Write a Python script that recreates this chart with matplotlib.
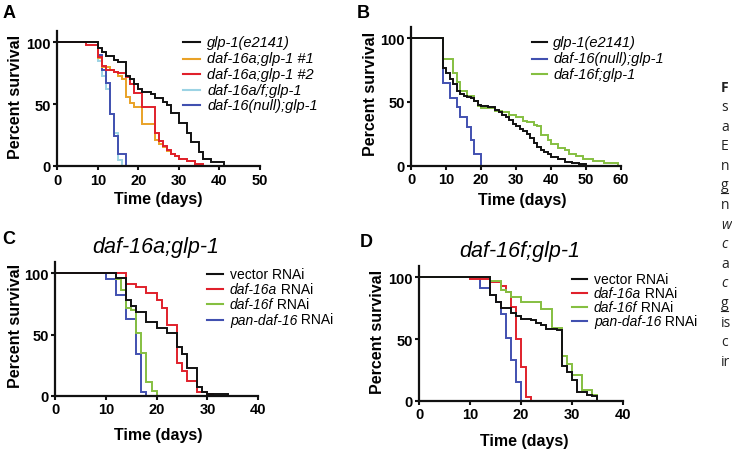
import matplotlib
matplotlib.use("Agg")
import matplotlib.pyplot as plt
from matplotlib.lines import Line2D

# ---------------- data ----------------
# Panel A
A_GLP1_T = [0, 10, 11, 12, 14, 15, 17, 18, 19, 20, 21, 23, 24, 26, 27, 28, 30, 32, 33, 35, 36, 38, 41]
A_GLP1_S = [100, 95, 92, 89, 86, 84, 73, 70, 66, 62, 60, 58, 55, 52, 49, 43, 35, 27, 19, 11, 6, 3, 0]
A_D16A1_T = [0, 10, 11, 13, 14, 15, 16, 17, 18, 19, 21, 24, 25, 26, 27, 28, 29, 30, 32, 34, 36]
A_D16A1_S = [100, 87, 80, 78, 76, 73, 70, 56, 51, 48, 34, 21, 18, 15, 12, 10, 8, 6, 4, 2, 0]
A_D16A2_T = [0, 7, 10, 11, 12, 14, 15, 17, 18, 19, 21, 24, 25, 26, 27, 28, 29, 30, 32, 34, 36]
A_D16A2_S = [100, 98, 88, 81, 78, 76, 75, 72, 66, 59, 48, 27, 20, 16, 13, 10, 8, 6, 4, 2, 0]
A_D16AF_T = [0, 10, 11, 12, 13, 14, 15, 16]
A_D16AF_S = [100, 85, 73, 62, 42, 27, 5, 0]
A_NULL_T = [0, 10, 11, 12, 13, 14, 15, 17]
A_NULL_S = [100, 90, 78, 67, 42, 24, 10, 0]

# Panel B
B_GLP1_T = [0, 9, 10, 11, 12, 13, 14, 15, 16, 17, 18, 19, 20, 22, 24, 25, 26, 27, 28, 29, 30,
            31, 32, 33, 34, 35, 36, 37, 38, 39, 40, 42, 44, 46, 48, 50]
B_GLP1_S = [100, 77, 73, 68, 64, 59, 56, 55, 54, 53, 51, 48, 47, 46, 44, 42, 40, 38, 36, 33, 31,
            29, 27, 25, 22, 18, 15, 12, 11, 9, 7, 5, 3, 2, 1, 0]
B_NULL_T = [0, 9, 11, 13, 14, 16, 17, 18, 20]
B_NULL_S = [100, 65, 53, 46, 38, 30, 20, 9, 0]
B_D16F_T = [0, 9, 12, 13, 14, 16, 18, 19, 20, 24, 26, 28, 30, 32, 33, 35, 36, 37, 39, 40, 42,
            44, 45, 47, 49, 52, 55, 59]
B_D16F_S = [100, 84, 73, 66, 59, 55, 51, 47, 45, 43, 42, 40, 38, 35, 34, 32, 31, 24, 20, 17, 14,
            12, 9, 8, 5, 4, 2.5, 0]

# Panel C (daf-16a;glp-1)
C_VEC_T = [0, 12, 14, 15, 16, 18, 20, 22, 24, 25, 26, 28, 29, 30, 34]
C_VEC_S = [100, 96, 78, 73, 68, 60, 55, 51, 40, 34, 23, 7, 3, 1.5, 0]
C_D16A_T = [0, 14, 16, 18, 20, 21, 22, 24, 25, 26, 28, 30, 31]
C_D16A_S = [100, 91, 89, 84, 78, 72, 58, 27, 20, 12, 3, 1.5, 0]
C_D16F_T = [0, 12, 13, 14, 15, 16, 17, 18, 19, 20]
C_D16F_S = [100, 95, 86, 72, 70, 51, 35, 11, 4, 0]
C_PAN_T = [0, 10, 12, 14, 16, 17, 18]
C_PAN_S = [100, 95, 82, 63, 34, 3, 0]

# Panel D (daf-16f;glp-1)
D_VEC_T = [0, 14, 15, 16, 18, 19, 20, 22, 23, 24, 25, 27, 28, 29, 30, 31, 33, 34, 35]
D_VEC_S = [100, 86, 80, 75, 71, 69, 66, 65, 63, 61, 58, 57, 28, 23, 17, 7, 5, 4, 0]
D_D16A_T = [0, 10, 14, 16, 17, 18, 19, 20, 21, 22]
D_D16A_S = [100, 98.6, 96, 93, 88, 76, 50, 27, 3, 0]
D_D16F_T = [0, 14, 16, 17, 18, 20, 24, 26, 28, 29, 30, 32, 34, 35]
D_D16F_S = [100, 97, 90, 88, 84, 80, 74, 59, 36, 30, 21, 9, 5, 0]
D_PAN_T = [0, 12, 14, 15, 16, 17, 18, 19, 20]
D_PAN_S = [100, 91, 86, 80, 70, 51, 33, 15, 0]

X_TICKS_A = [0, 10, 20, 30, 40, 50]
X_TICKS_B = [0, 10, 20, 30, 40, 50, 60]
X_TICKS_CD = [0, 10, 20, 30, 40]
Y_TICKS = [0, 50, 100]

LEGEND_A = [("glp-1(e2141)", ""), ("daf-16a;glp-1 #1", ""), ("daf-16a;glp-1 #2", ""),
            ("daf-16a/f;glp-1", ""), ("daf-16(null);glp-1", "")]
LEGEND_B = [("glp-1(e2141)", ""), ("daf-16(null);glp-1", ""), ("daf-16f;glp-1", "")]
LEGEND_CD = [("vector", None), ("daf-16a", " RNAi"), ("daf-16f", " RNAi"), ("pan-daf-16", " RNAi")]

RIGHT_TEXT = ["F", "s", "a", "E", "n", "g", "n", "w", "c", "a", "c", "g", "is", "c", "ir"]
RIGHT_STYLE = ["bold", "", "", "", "", "u", "", "i", "i", "", "i", "u", "", "", ""]

# ---------------- style ----------------
BLACK = "#111111"
ORANGE = "#E9A227"
RED = "#E0202B"
LIGHTBLUE = "#9CD3E4"
DARKBLUE = "#4150B0"
GREEN = "#85BF41"

W, H = 732, 452
plt.rcParams["font.family"] = ["Liberation Sans", "DejaVu Sans"]
fig = plt.figure(figsize=(W / 100, H / 100), dpi=100)


def fx(x):
    return x / W


def fy(y):
    return 1 - y / H


def make_ax(left, right, y0, y100, xmax, xticks):
    ppp = (y0 - y100) / 100.0
    top = y0 - 109 * ppp
    ax = fig.add_axes([fx(left), fy(y0), (right - left) / W, (y0 - top) / H])
    ax.set_xlim(0, xmax)
    ax.set_ylim(0, 109)
    for s in ("top", "right"):
        ax.spines[s].set_visible(False)
    for s in ("left", "bottom"):
        ax.spines[s].set_linewidth(1.6)
        ax.spines[s].set_color(BLACK)
    ax.set_xticks(xticks)
    ax.set_yticks(Y_TICKS)
    ax.tick_params(axis="both", direction="out", length=3.2, width=1.5, color=BLACK,
                   labelsize=10.5, pad=1.5)
    for lab in ax.get_xticklabels() + ax.get_yticklabels():
        lab.set_fontweight("bold")
    ax.patch.set_alpha(0)
    return ax


def curve(ax, t, s, color):
    ax.step(t, s, where="post", color=color, lw=1.4, clip_on=False, solid_joinstyle="miter")


def labels(ax, xc, yc):
    ax.set_xlabel("Time (days)", fontsize=11.5, fontweight="bold")
    ax.xaxis.set_label_coords(fx(xc[0]), fy(xc[1]), transform=fig.transFigure)
    ax.xaxis.label.set_va("center")
    ax.set_ylabel("Percent survival", fontsize=11.5, fontweight="bold")
    ax.yaxis.set_label_coords(fx(yc[0]), fy(yc[1]), transform=fig.transFigure)
    ax.yaxis.label.set_va("center")
    ax.yaxis.label.set_ha("center")


def legend(ax, rows, colors, ys, x0, x1, xt, size):
    for (main, extra), c, y in zip(rows, colors, ys):
        fig.add_artist(Line2D([fx(x0), fx(x1)], [fy(y), fy(y)], color=c, lw=1.5,
                              transform=fig.transFigure))
        if extra is None:
            fig.text(fx(xt), fy(y), main + " RNAi", fontsize=size, va="center", ha="left")
        else:
            t1 = fig.text(fx(xt), fy(y), main, fontsize=size, style="italic",
                          va="center", ha="left")
            if extra:
                ax.annotate(extra, xy=(1, 0), xycoords=t1, va="bottom", ha="left",
                            fontsize=size, annotation_clip=False)


# Panel A
axA = make_ax(57.3, 260, 167, 43.3, 50, X_TICKS_A)
for t, s, c in [(A_D16AF_T, A_D16AF_S, LIGHTBLUE), (A_NULL_T, A_NULL_S, DARKBLUE),
                (A_D16A1_T, A_D16A1_S, ORANGE), (A_D16A2_T, A_D16A2_S, RED),
                (A_GLP1_T, A_GLP1_S, BLACK)]:
    curve(axA, t, s, c)
labels(axA, (158.6, 200), (16, 97))
legend(axA, LEGEND_A, [BLACK, ORANGE, RED, LIGHTBLUE, DARKBLUE],
       [43.3, 59.5, 75, 90.7, 106], 183, 200, 207, 10.5)

# Panel B
axB = make_ax(411, 621, 166.7, 39.3, 60, X_TICKS_B)
for t, s, c in [(B_NULL_T, B_NULL_S, DARKBLUE), (B_D16F_T, B_D16F_S, GREEN),
                (B_GLP1_T, B_GLP1_S, BLACK)]:
    curve(axB, t, s, c)
labels(axB, (522, 201), (371, 94))
legend(axB, LEGEND_B, [BLACK, DARKBLUE, GREEN], [43.3, 59.5, 75], 531.7, 546.7, 553, 10.5)

# Panel C
axC = make_ax(55, 258.3, 396.7, 274.3, 40, X_TICKS_CD)
for t, s, c in [(C_PAN_T, C_PAN_S, DARKBLUE), (C_D16F_T, C_D16F_S, GREEN),
                (C_D16A_T, C_D16A_S, RED), (C_VEC_T, C_VEC_S, BLACK)]:
    curve(axC, t, s, c)
labels(axC, (158, 435.5), (15.5, 326))
legend(axC, LEGEND_CD, [BLACK, RED, GREEN, DARKBLUE], [275, 290, 305, 320.5], 207, 223, 230, 10)

# Panel D
axD = make_ax(419.3, 622.7, 401.7, 278.3, 40, X_TICKS_CD)
for t, s, c in [(D_PAN_T, D_PAN_S, DARKBLUE), (D_D16A_T, D_D16A_S, RED),
                (D_D16F_T, D_D16F_S, GREEN), (D_VEC_T, D_VEC_S, BLACK)]:
    curve(axD, t, s, c)
labels(axD, (524.6, 441.3), (378, 332))
legend(axD, LEGEND_CD, [BLACK, RED, GREEN, DARKBLUE], [280, 294, 308.3, 322], 571.7, 586.7, 594, 10)

# Titles and panel letters
fig.text(fx(156), fy(247), "daf-16a;glp-1", fontsize=15.5, style="italic", ha="center", va="center")
fig.text(fx(520), fy(252), "daf-16f;glp-1", fontsize=15.5, style="italic", ha="center", va="center")
for letter, x, y in [("A", 3, 14), ("B", 357, 14), ("C", 2, 239.5), ("D", 360, 242.5)]:
    fig.text(fx(x), fy(y), letter, fontsize=13, fontweight="bold", ha="left", va="center")

# Cropped caption column at right edge
for i, (txt, st) in enumerate(zip(RIGHT_TEXT, RIGHT_STYLE)):
    y = 88 + i * 19.6
    kw = dict(fontsize=10, ha="left", va="center", color="#222222",
              family=["Open Sans", "DejaVu Sans"])
    if st == "bold":
        kw["fontweight"] = "bold"
    if st == "i":
        kw["style"] = "italic"
    fig.text(fx(721), fy(y), txt, **kw)
    if st == "u":
        fig.add_artist(Line2D([fx(721), fx(728)], [fy(y + 8), fy(y + 8)], color="#222222",
                              lw=0.8, transform=fig.transFigure))

fig.savefig("out.png", dpi=100)
